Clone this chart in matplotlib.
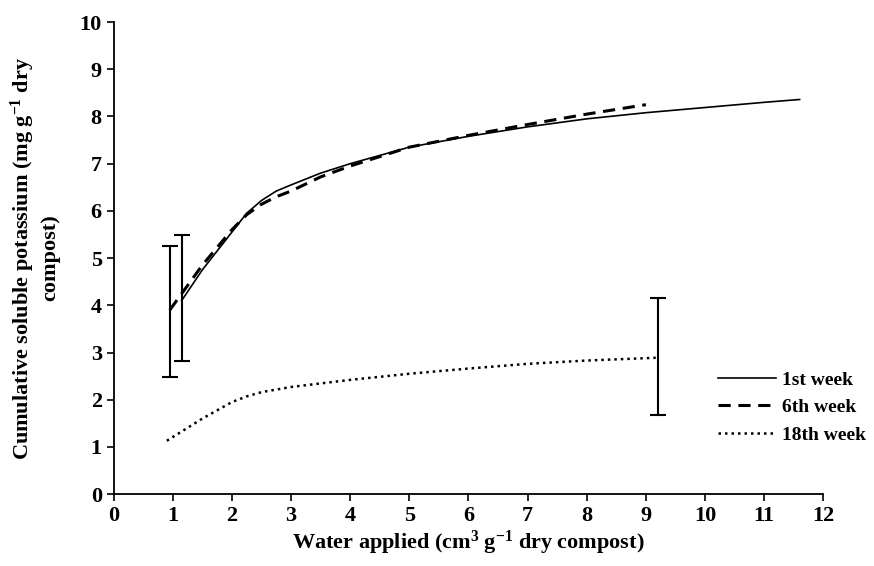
import matplotlib
matplotlib.use("Agg")
import matplotlib.pyplot as plt

# Data
week1_x = [1.15, 1.5, 2.0, 2.25, 2.5, 2.75, 3.0, 3.5, 4.0, 5.0, 6.0, 7.0, 8.0, 9.0, 10.0, 11.0, 11.6]
week1_y = [4.1, 4.75, 5.55, 5.95, 6.22, 6.42, 6.55, 6.8, 7.0, 7.35, 7.58, 7.78, 7.95, 8.08, 8.19, 8.3, 8.36]
week6_x = [0.95, 1.5, 2.0, 2.25, 2.5, 2.75, 3.0, 3.5, 4.0, 5.0, 6.0, 7.0, 8.0, 9.0]
week6_y = [3.9, 4.85, 5.6, 5.92, 6.14, 6.3, 6.42, 6.72, 6.95, 7.35, 7.6, 7.83, 8.05, 8.25]
week18_x = [0.9, 1.5, 2.0, 2.25, 2.5, 3.0, 4.0, 5.0, 6.0, 7.0, 8.0, 9.2]
week18_y = [1.13, 1.6, 1.95, 2.07, 2.16, 2.27, 2.42, 2.55, 2.66, 2.76, 2.83, 2.89]

err_x = [1.15, 0.95, 9.2]
err_y = [4.15, 3.85, 2.9]
err_lo = [2.82, 2.48, 1.68]
err_hi = [5.48, 5.25, 4.15]

labels = ["1st week", "6th week", "18th week"]
xticks = list(range(0, 13))
yticks = list(range(0, 11))

plt.rcParams['font.family'] = ['Liberation Serif', 'DejaVu Serif']
plt.rcParams['mathtext.fontset'] = 'custom'
plt.rcParams['mathtext.rm'] = 'Liberation Serif:bold'
plt.rcParams['mathtext.it'] = 'Liberation Serif:bold'
plt.rcParams['mathtext.bf'] = 'Liberation Serif:bold'

fig = plt.figure(figsize=(8.74, 5.66), dpi=100)
ax = fig.add_axes([0.130, 0.127, 0.812, 0.834])

ax.plot(week1_x, week1_y, color='black', lw=1.2, ls='-', label=labels[0])
ax.plot(week6_x, week6_y, color='black', lw=2.2, ls=(0, (4, 2.5)), label=labels[1])
ax.plot(week18_x, week18_y, color='black', lw=1.8, ls=(0, (1, 1.6)), label=labels[2])

for x, y, lo, hi in zip(err_x, err_y, err_lo, err_hi):
    ax.errorbar([x], [y], yerr=[[y - lo], [hi - y]], fmt='none', ecolor='black',
                elinewidth=1.5, capsize=6, capthick=1.5)

ax.set_xlim(0, 12)
ax.set_ylim(0, 10)
ax.set_xticks(xticks)
ax.set_yticks(yticks)
ax.spines['top'].set_visible(False)
ax.spines['right'].set_visible(False)
ax.spines['left'].set_linewidth(1.3)
ax.spines['bottom'].set_linewidth(1.3)
ax.tick_params(direction='out', length=5, width=1.2, labelsize=16)
for lab in ax.get_xticklabels() + ax.get_yticklabels():
    lab.set_fontweight('bold')

ax.set_xlabel("Water applied (cm$^{3}$ g$^{-1}$ dry compost)", fontsize=16, fontweight='bold', labelpad=2)
ax.set_ylabel("Cumulative soluble potassium (mg g$^{-1}$ dry\ncompost)", fontsize=16,
              fontweight='bold', labelpad=14)

leg = ax.legend(loc='lower right', bbox_to_anchor=(1.085, 0.07), frameon=False,
                prop={'family': 'Liberation Serif', 'weight': 'bold', 'size': 14},
                handlelength=3.0, handletextpad=0.3, labelspacing=0.5)

fig.savefig("out.png", dpi=100)
